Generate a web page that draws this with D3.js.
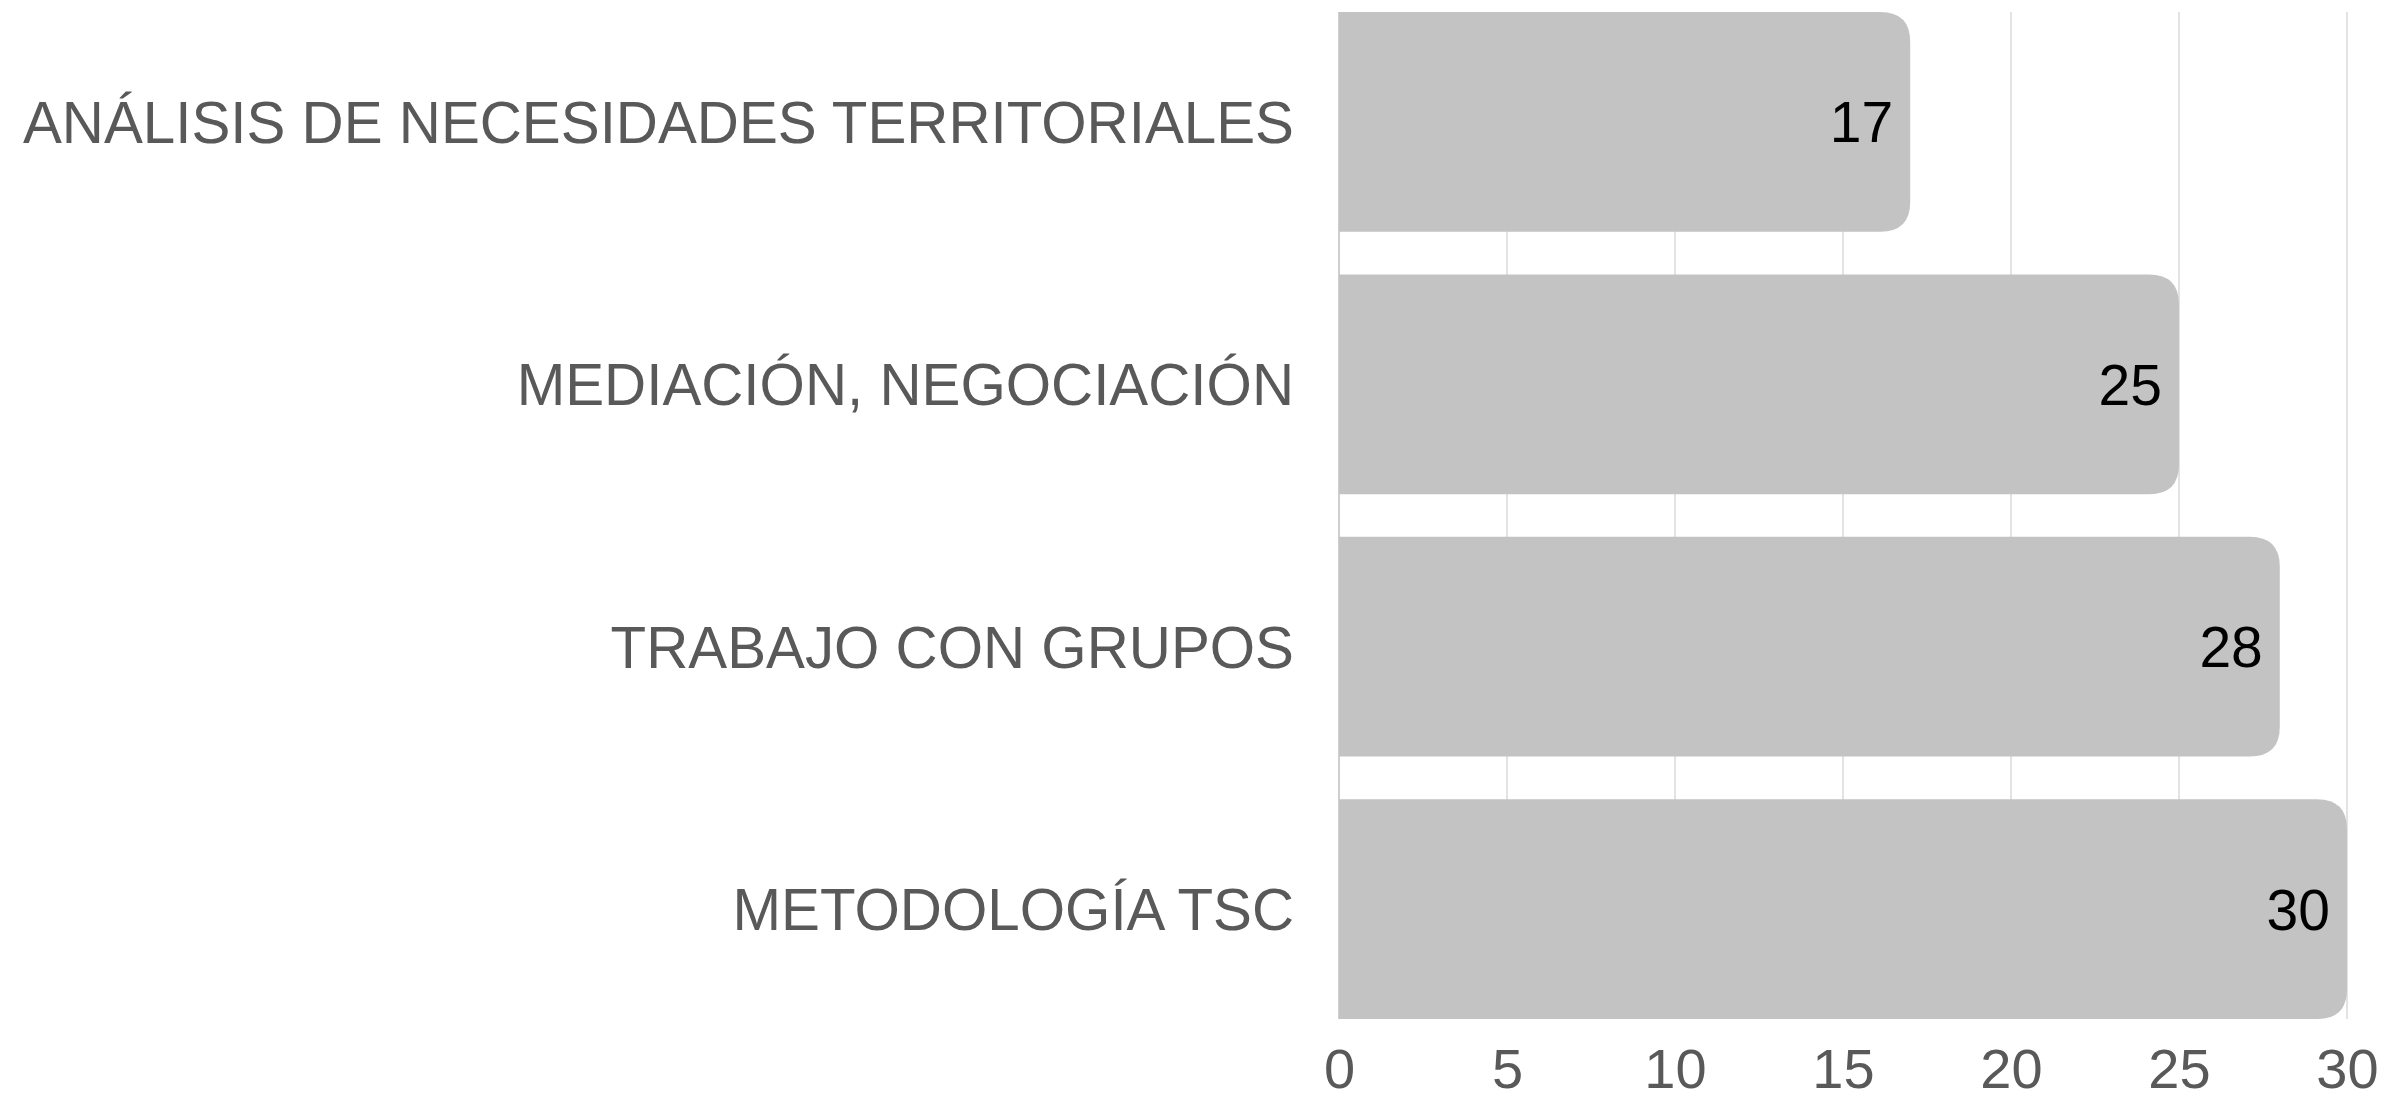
<!DOCTYPE html>
<html>
<head>
<meta charset="utf-8">
<script src="https://cdn.jsdelivr.net/npm/d3@7"></script>
<style>
  body { margin: 0; background: #fff; }
  text { font-family: "Liberation Sans", Arial, sans-serif; }
</style>
</head>
<body>
<div id="chart"></div>
<script>
// horizontal bar chart, values at the end of each bar

var categories = ["ANÁLISIS DE NECESIDADES TERRITORIALES", "MEDIACIÓN, NEGOCIACIÓN", "TRABAJO CON GRUPOS", "METODOLOGÍA TSC"];
var values = [17, 25, 28, 30];
var tickValues = [0, 5, 10, 15, 20, 25, 30];

var svgWidth = 2392;
var svgHeight = 1100;

var chartMargin = { top: 12, right: 45, bottom: 81, left: 1339 };
var chartWidth = svgWidth - chartMargin.left - chartMargin.right;
var chartHeight = svgHeight - chartMargin.top - chartMargin.bottom;

var svg = d3.select("#chart")
  .append("svg")
  .attr("width", svgWidth)
  .attr("height", svgHeight);

var chartGroup = svg.append("g")
  .attr("transform", `translate(${chartMargin.left}, ${chartMargin.top})`);

var xscale = d3.scaleLinear()
  .domain([0, 30])
  .range([0, chartWidth]);

var yscale = d3.scaleBand()
  .domain(categories)
  .range([0, chartHeight])
  .paddingInner(0.162)
  .paddingOuter(0);

// vertical gridlines
chartGroup.selectAll(".grid")
  .data(tickValues)
  .enter()
  .append("line")
  .attr("x1", d => xscale(d))
  .attr("x2", d => xscale(d))
  .attr("y1", 0)
  .attr("y2", chartHeight)
  .attr("stroke", d => d === 0 ? "#cfcfcf" : "#e3e3e3")
  .attr("stroke-width", 2);

// bars with rounded right end
var radius = 30;
function barPath(d, i) {
  var y0 = yscale(categories[i]);
  var h = yscale.bandwidth();
  var w = xscale(d);
  var r = Math.min(radius, w / 2, h / 2);
  return `M0,${y0} H${w - r} Q${w},${y0} ${w},${y0 + r} V${y0 + h - r} Q${w},${y0 + h} ${w - r},${y0 + h} H0 Z`;
}

chartGroup.selectAll(".bar")
  .data(values)
  .enter()
  .append("path")
  .attr("class", "bar")
  .attr("d", barPath)
  .attr("fill", "#c3c3c3");

// value labels
chartGroup.selectAll(".value")
  .data(values)
  .enter()
  .append("text")
  .attr("x", d => xscale(d) - 17)
  .attr("y", (d, i) => yscale(categories[i]) + yscale.bandwidth() / 2)
  .attr("dy", "0.36em")
  .attr("text-anchor", "end")
  .attr("font-size", "57px")
  .attr("fill", "#000")
  .text(d => d);

// category labels
chartGroup.selectAll(".cat")
  .data(categories)
  .enter()
  .append("text")
  .attr("x", -45)
  .attr("y", d => yscale(d) + yscale.bandwidth() / 2)
  .attr("dy", "0.36em")
  .attr("text-anchor", "end")
  .attr("font-size", "58.3px")
  .attr("fill", "#595959")
  .text(d => d);

// x axis tick labels
var bottomAxis = d3.axisBottom(xscale)
  .tickValues(tickValues)
  .tickSize(0)
  .tickPadding(0);

var x_axis = chartGroup.append("g")
  .attr("transform", `translate(0, ${chartHeight})`)
  .call(bottomAxis);

x_axis.select(".domain").remove();
x_axis.selectAll("text")
  .attr("y", 69)
  .attr("dy", 0)
  .attr("font-size", "56px")
  .attr("font-family", "Liberation Sans, Arial, sans-serif")
  .attr("fill", "#595959");
</script>
</body>
</html>
